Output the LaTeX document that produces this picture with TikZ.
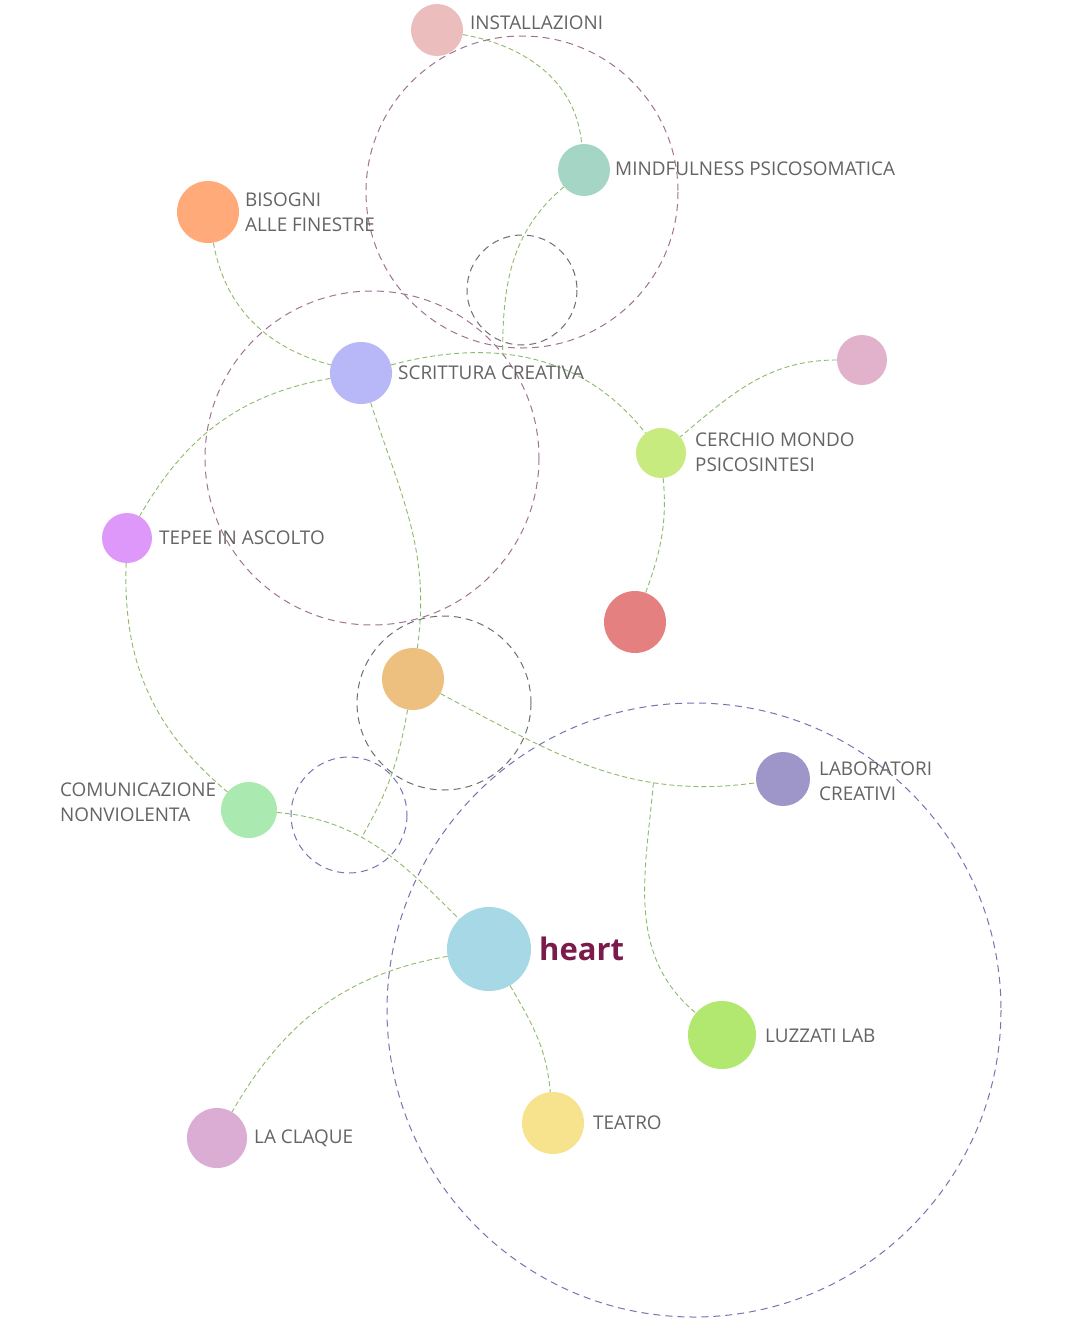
\documentclass[tikz,border=0pt]{standalone}
\usepackage{fontspec}
\setmainfont{Open Sans}
\usetikzlibrary{calc}
\definecolor{lnk}{HTML}{8DBA6C}
\definecolor{txt}{HTML}{646464}
\definecolor{mauve}{HTML}{A07394}
\definecolor{dgray}{HTML}{6E6E6E}
\definecolor{bpur}{HTML}{7674B2}
\definecolor{hearttxt}{HTML}{7B1B4B}
\tikzset{
  dot/.style={circle,inner sep=0pt,minimum size=#1,draw=none},
  lab/.style={anchor=west,text=txt,font=\fontsize{18.9}{25}\selectfont,align=left,inner sep=0pt},
  link/.style={draw=lnk,line width=0.9pt,dash pattern=on 5pt off 3pt},
  ring/.style={line width=1pt,dash pattern=on 7pt off 5pt},
}
\begin{document}
\begin{tikzpicture}[x=1pt,y=-1pt]
\useasboundingbox[fill=white] (0,0) rectangle (1080,1325);
% dashed rings
\draw[ring,draw=mauve] (522,192) circle[radius=156];
\draw[ring,draw=dgray] (522,290) circle[radius=55];
\draw[ring,draw=mauve] (372,458) circle[radius=167];
\draw[ring,draw=dgray] (444,703) circle[radius=87];
\draw[ring,draw=bpur] (349,815) circle[radius=58];
\draw[ring,draw=bpur] (694,1010) circle[radius=307];
% nodes
\node[dot=52pt,fill={rgb,255:red,235;green,189;blue,189}] (inst) at (437,30) {};
\node[dot=52pt,fill={rgb,255:red,165;green,213;blue,197}] (mind) at (584,170) {};
\node[dot=62pt,fill={rgb,255:red,255;green,170;blue,120}] (bis) at (208,212) {};
\node[dot=62pt,fill={rgb,255:red,184;green,184;blue,248}] (scr) at (361,373) {};
\node[dot=50pt,fill={rgb,255:red,226;green,178;blue,204}] (pink) at (862,360) {};
\node[dot=50pt,fill={rgb,255:red,200;green,235;blue,128}] (cer) at (661,453) {};
\node[dot=50pt,fill={rgb,255:red,222;green,152;blue,250}] (tep) at (127,538) {};
\node[dot=62pt,fill={rgb,255:red,229;green,128;blue,128}] (red) at (635,622) {};
\node[dot=62pt,fill={rgb,255:red,238;green,192;blue,128}] (ora) at (413,679) {};
\node[dot=54pt,fill={rgb,255:red,158;green,149;blue,200}] (labc) at (783,779) {};
\node[dot=56pt,fill={rgb,255:red,170;green,234;blue,176}] (com) at (249,810) {};
\node[dot=84pt,fill={rgb,255:red,166;green,216;blue,230}] (heart) at (489,949) {};
\node[dot=68pt,fill={rgb,255:red,178;green,232;blue,112}] (luz) at (722,1035) {};
\node[dot=62pt,fill={rgb,255:red,247;green,227;blue,142}] (tea) at (553,1123) {};
\node[dot=60pt,fill={rgb,255:red,219;green,172;blue,212}] (cla) at (217,1138) {};
% connectors
\draw[link] (inst) to[out=-10,in=95] (mind);
\draw[link] (scr) to[out=15,in=128] coordinate[pos=0.39] (b1) (cer);
\draw[link] (mind) to[out=220,in=90] (b1);
\draw[link] (bis) to[out=-80,in=165] (scr);
\draw[link] (pink) to[out=180,in=40] (cer);
\draw[link] (cer) to[out=-85,in=70] (red);
\draw[link] (scr) to[out=-72,in=82] (ora);
\draw[link] (scr) to[out=190,in=60] (tep);
\draw[link] (tep) to[out=-92,in=140] (com);
\draw[link] (ora) to[out=-28,in=188] coordinate[pos=0.7] (b2) (labc);
\draw[link] (b2) to[out=-95,in=140] (luz);
\draw[link] (com) to[out=-5,in=135] coordinate[pos=0.41] (b3) (heart);
\draw[link] (ora) to[out=-100,in=60] (b3);
\draw[link] (heart) to[out=190,in=60] (cla);
\draw[link] (heart) to[out=-60,in=95] (tea);
% labels
\node[lab] (linst) at (470,23) {INSTALLAZIONI};
\node[lab] (lmind) at (615,169) {MINDFULNESS PSICOSOMATICA};
\node[lab] (lbis) at (245,212) {BISOGNI\\ALLE FINESTRE};
\node[lab] (lscr) at (398,373) {SCRITTURA CREATIVA};
\node[lab] (lcer) at (695,452) {CERCHIO MONDO\\PSICOSINTESI};
\node[lab] (ltep) at (159,538) {TEPEE IN ASCOLTO};
\node[lab] (llab) at (819,781) {LABORATORI\\CREATIVI};
\node[lab] (lcom) at (60,802) {COMUNICAZIONE\\NONVIOLENTA};
\node[lab] (lluz) at (765,1036) {LUZZATI LAB};
\node[lab] (ltea) at (593,1123) {TEATRO};
\node[lab] (lcla) at (254,1138) {LA CLAQUE};
\node[anchor=west,inner sep=0pt,text=hearttxt,font=\fontsize{31}{36}\selectfont\bfseries] (lheart) at (539,949) {heart};
\end{tikzpicture}
\end{document}
